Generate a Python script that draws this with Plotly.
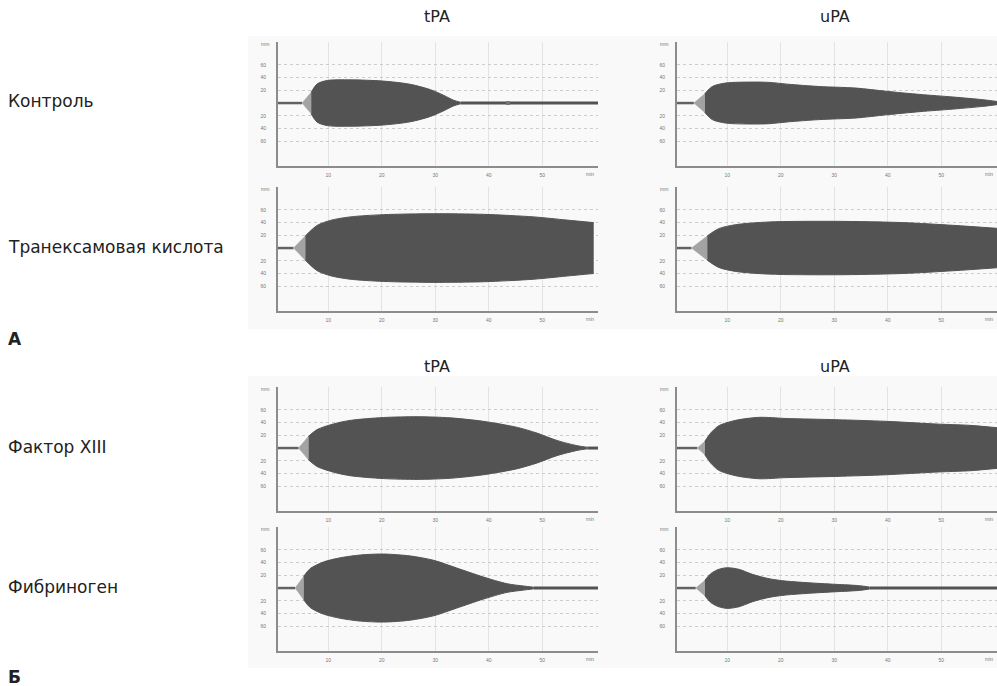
import plotly.graph_objects as go

W, H = 997, 686

# ---------------- data (time in min, half-amplitude in mm) ----------------
col_titles = ["tPA", "uPA"]
row_labels = ["Контроль", "Транексамовая кислота", "Фактор XIII", "Фибриноген"]
block_labels = ["А", "Б"]

x_ticks = [10, 20, 30, 40, 50]
x_tick_text = ["10", "20", "30", "40", "50"]
y_ticks = [-60, -40, -20, 20, 40, 60]
y_tick_text = ["60", "40", "20", "20", "40", "60"]

# Control, tPA
lag_1, gray_t_1, gray_a_1 = 5.1, 6.8, 17
t_1 = [6.8, 7.9, 9.8, 14.1, 20.3, 25.3, 29.1, 31.6, 33.4, 34.7]
a_1 = [17, 30, 35.5, 36.5, 34.5, 29.5, 21, 12, 4.5, 1.2]
# Control, uPA
lag_2, gray_t_2, gray_a_2 = 3.75, 5.8, 14.7
t_2 = [5.8, 7.2, 9.7, 14.7, 17.8, 21.5, 27.2, 34.1, 39.7, 46.0, 52.2, 57.8, 60.4]
a_2 = [14.7, 26, 31.5, 33, 32.5, 29.5, 26, 23.5, 18.5, 13.5, 9.5, 5.2, 2.5]
# Tranexamic acid, tPA
lag_3, gray_t_3, gray_a_3 = 3.5, 5.7, 19
t_3 = [5.7, 7.9, 10.4, 14.1, 20.3, 29.7, 39.0, 48.4, 54.6, 59.6]
a_3 = [19, 35.5, 43.5, 49, 52.5, 54, 53, 49, 44, 40]
# Tranexamic acid, uPA
lag_4, gray_t_4, gray_a_4 = 3.3, 6.25, 19
t_4 = [6.25, 8.4, 11.6, 17.8, 30.3, 42.8, 52.2, 60.4]
a_4 = [19, 30.5, 36.8, 41, 42, 40, 35.7, 31]
# Factor XIII, tPA
lag_5, gray_t_5, gray_a_5 = 4.45, 6.3, 18.4
t_5 = [6.3, 7.9, 11.0, 14.1, 20.3, 26.6, 32.8, 39.0, 45.3, 49.0, 52.7, 56.5, 58.4]
a_5 = [18.4, 29, 38, 43.5, 48, 49.3, 47.5, 42, 32.5, 23.5, 12, 3.7, 1.2]
# Factor XIII, uPA
lag_6, gray_t_6, gray_a_6 = 4.4, 5.8, 10.5
t_6 = [5.8, 6.9, 8.4, 11.6, 16.0, 21.0, 30.3, 39.7, 49.0, 55.3, 60.4]
a_6 = [10.5, 23.6, 35, 43.6, 48.3, 46.5, 44.6, 42, 37.8, 35.7, 32]
# Fibrinogen, tPA
lag_7, gray_t_7, gray_a_7 = 3.8, 5.4, 18.4
t_7 = [5.4, 6.6, 9.1, 12.2, 16.0, 20.3, 25.3, 29.7, 34.0, 39.0, 43.4, 46.5, 48.4]
a_7 = [18.4, 30.5, 41, 47.5, 52, 53.5, 50.5, 43.6, 31.5, 17.3, 6.8, 3.2, 1.2]
# Fibrinogen, uPA
lag_8, gray_t_8, gray_a_8 = 4.1, 5.8, 12
t_8 = [5.8, 6.9, 8.4, 10.0, 12.2, 14.7, 17.8, 20.9, 25.9, 30.3, 34.7, 36.6]
a_8 = [12, 22.6, 29.4, 32, 29.4, 21.5, 14.7, 11, 7.9, 5.8, 3.7, 1.5]

marker_1 = [43.6]

panels = [
    (lag_1, gray_t_1, gray_a_1, t_1, a_1, True),
    (lag_2, gray_t_2, gray_a_2, t_2, a_2, False),
    (lag_3, gray_t_3, gray_a_3, t_3, a_3, False),
    (lag_4, gray_t_4, gray_a_4, t_4, a_4, False),
    (lag_5, gray_t_5, gray_a_5, t_5, a_5, True),
    (lag_6, gray_t_6, gray_a_6, t_6, a_6, False),
    (lag_7, gray_t_7, gray_a_7, t_7, a_7, True),
    (lag_8, gray_t_8, gray_a_8, t_8, a_8, True),
]

# ---------------- layout geometry (pixels) ----------------
X_MIN, X_MAX = 0.6, 60.4
Y_MIN, Y_MAX = -99, 96
rows_px = [(42, 166), (187, 311), (387, 511), (527, 651)]
cols_px = [(278, 598), (677, 997)]

DARK = "#535353"
GRAY = "#a3a3a3"
LINE = "#626262"
FONT = "DejaVu Sans, Liberation Sans, Arial, sans-serif"
TICKFONT = "Liberation Sans, Arial, sans-serif"


def px_x(p):
    return p / W


def px_y(p):
    return 1 - p / H


fig = go.Figure()
layout = dict(
    width=W, height=H, margin=dict(l=0, r=0, t=0, b=0),
    paper_bgcolor="white", plot_bgcolor="white", showlegend=False,
    font=dict(family=FONT, color="#222"),
)
annotations = []
shapes = []

# faint block backgrounds
for (y0, y1) in [(36, 329), (376, 668)]:
    shapes.append(dict(type="rect", xref="paper", yref="paper", layer="below",
                       x0=px_x(248), x1=1, y0=px_y(y1), y1=px_y(y0),
                       fillcolor="#f9f9f9", line=dict(width=0)))

for i, (lag, gt, ga, t, a, closes) in enumerate(panels):
    k = i + 1
    r, c = divmod(i, 2)
    xa = f"x{k}" if k > 1 else "x"
    ya = f"y{k}" if k > 1 else "y"
    xkey = f"xaxis{k}" if k > 1 else "xaxis"
    ykey = f"yaxis{k}" if k > 1 else "yaxis"
    (ptop, pbot) = rows_px[r]
    (pl, pr) = cols_px[c]
    layout[xkey] = dict(
        domain=[px_x(pl), px_x(pr)], range=[X_MIN, X_MAX], anchor=ya,
        tickvals=x_ticks, ticktext=x_tick_text, showgrid=True,
        gridcolor="#e3e3e3", gridwidth=1, showline=True, linecolor="#8c8c8c",
        linewidth=2, zeroline=False, ticks="", ticklabelstandoff=3,
        tickfont=dict(size=5, color="#777", family=TICKFONT), fixedrange=True,
    )
    layout[ykey] = dict(
        domain=[px_y(pbot), px_y(ptop)], range=[Y_MIN, Y_MAX], anchor=xa,
        tickvals=y_ticks, ticktext=y_tick_text, showgrid=True,
        gridcolor="#cccccc", griddash="dot", gridwidth=1, showline=True,
        linecolor="#8c8c8c", linewidth=2, zeroline=False, ticks="",
        ticklabelstandoff=9, tickfont=dict(size=5, color="#777", family=TICKFONT),
        fixedrange=True,
    )
    # baseline before clot formation
    fig.add_trace(go.Scatter(x=[X_MIN, lag], y=[0, 0], mode="lines",
                             line=dict(color=LINE, width=2.5), xaxis=xa, yaxis=ya,
                             hoverinfo="skip"))
    # light gray initial divergence
    fig.add_trace(go.Scatter(x=[lag, gt], y=[0, -ga], mode="lines",
                             line=dict(color=GRAY, width=0.5), xaxis=xa, yaxis=ya,
                             hoverinfo="skip"))
    fig.add_trace(go.Scatter(x=[lag, gt], y=[0, ga], mode="lines", fill="tonexty",
                             fillcolor=GRAY, line=dict(color=GRAY, width=0.5),
                             xaxis=xa, yaxis=ya, hoverinfo="skip"))
    # dark amplitude envelope
    fig.add_trace(go.Scatter(x=t, y=[-v for v in a], mode="lines",
                             line=dict(color=DARK, width=1, shape="spline", smoothing=0.8),
                             xaxis=xa, yaxis=ya, hoverinfo="skip"))
    fig.add_trace(go.Scatter(x=t, y=a, mode="lines", fill="tonexty", fillcolor=DARK,
                             line=dict(color=DARK, width=1, shape="spline", smoothing=0.8),
                             xaxis=xa, yaxis=ya, hoverinfo="skip"))
    # flat line after complete lysis
    if closes:
        fig.add_trace(go.Scatter(x=[t[-1], X_MAX], y=[0, 0], mode="lines",
                                 line=dict(color=DARK, width=3), xaxis=xa, yaxis=ya,
                                 hoverinfo="skip"))
    if k == 1:
        fig.add_trace(go.Scatter(x=marker_1, y=[0], mode="markers",
                                 marker=dict(symbol="square", size=4, color="#777"),
                                 xaxis=xa, yaxis=ya, hoverinfo="skip"))
    # unit labels
    annotations.append(dict(xref=f"{xa} domain", yref=ya, x=0, y=93, text="mm",
                            showarrow=False, xanchor="right", yanchor="middle", xshift=-7,
                            font=dict(size=5, color="#777", family=TICKFONT)))
    annotations.append(dict(xref=xa, yref=f"{ya} domain", x=58.9, y=0, text="min",
                            showarrow=False, xanchor="center", yanchor="top", yshift=-3,
                            font=dict(size=5, color="#777", family=TICKFONT)))

# column titles
for title_y in (16, 366):
    for c, xc in enumerate([437, 835]):
        annotations.append(dict(xref="paper", yref="paper", x=px_x(xc), y=px_y(title_y),
                                text=col_titles[c], showarrow=False,
                                xanchor="center", yanchor="middle",
                                font=dict(size=16, color="#222")))
# row labels
for lbl, yc in zip(row_labels, [101, 247, 447, 587]):
    annotations.append(dict(xref="paper", yref="paper", x=px_x(6), y=px_y(yc),
                            text=lbl, showarrow=False, xanchor="left", yanchor="middle",
                            font=dict(size=17, color="#222")))
for lbl, yc in zip(block_labels, [339, 677]):
    annotations.append(dict(xref="paper", yref="paper", x=px_x(6), y=px_y(yc),
                            text=f"<b>{lbl}</b>", showarrow=False, xanchor="left",
                            yanchor="middle", font=dict(size=17, color="#222")))

layout["annotations"] = annotations
layout["shapes"] = shapes
fig.update_layout(**layout)
fig.write_html("out.html")
